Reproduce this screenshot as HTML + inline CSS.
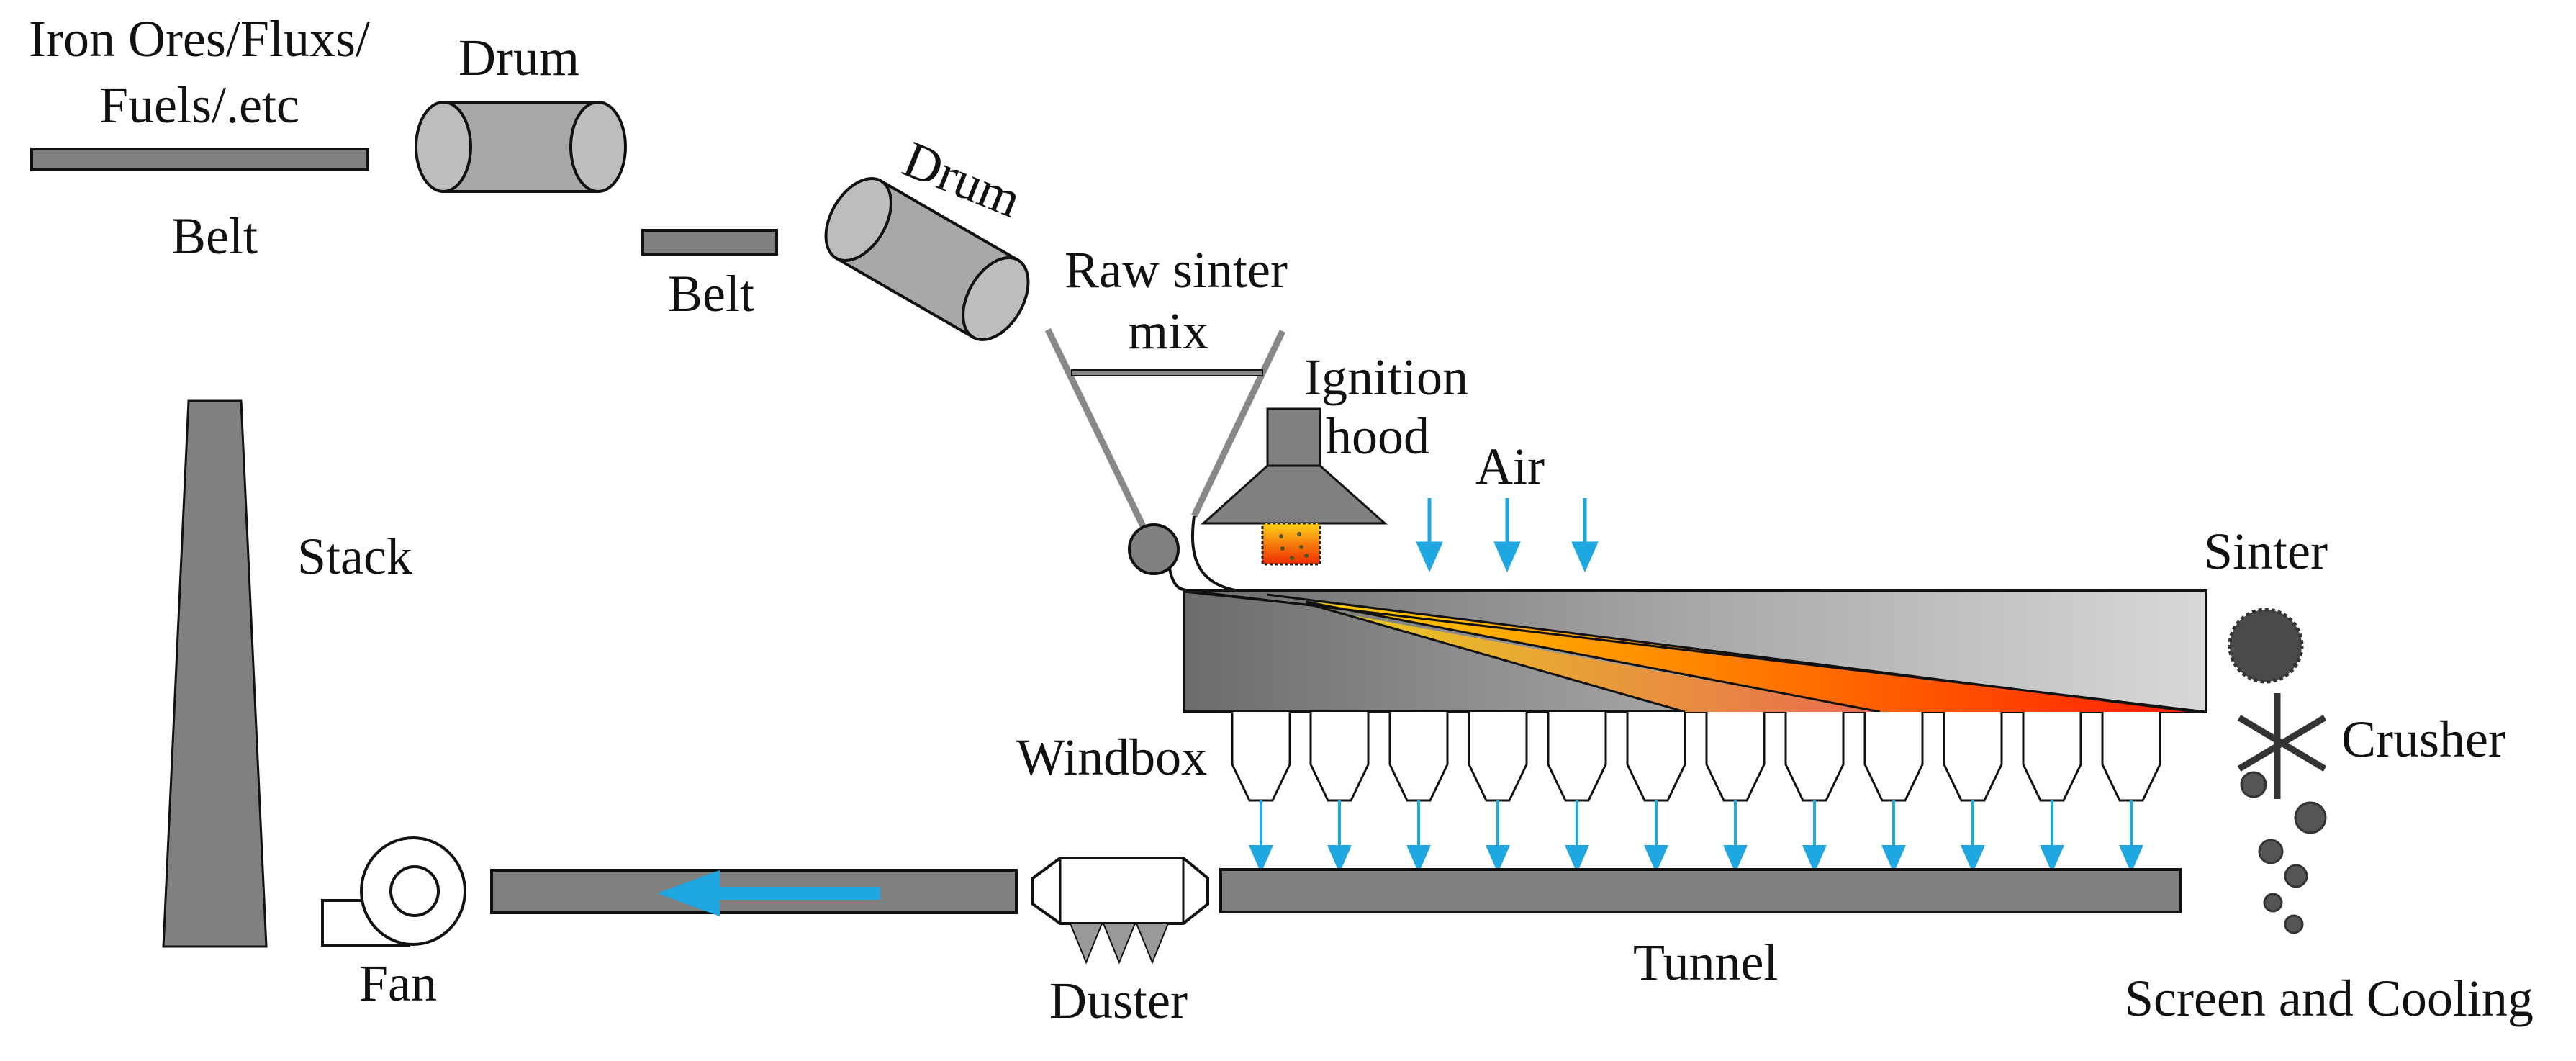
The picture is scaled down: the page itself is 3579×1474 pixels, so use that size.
<!DOCTYPE html>
<html><head><meta charset="utf-8"><style>
html,body{margin:0;padding:0;background:#fff;}
svg{display:block;}
text{font-family:"Liberation Serif",serif;font-size:72px;fill:#111;}
</style></head><body>
<svg width="3579" height="1474" viewBox="0 0 3579 1474" xmlns="http://www.w3.org/2000/svg">
<defs>
<linearGradient id="bed" x1="0" x2="1" y1="0" y2="0"><stop offset="0" stop-color="#6c6c6c"/><stop offset="0.5" stop-color="#a8a8a8"/><stop offset="1" stop-color="#d8d8d8"/></linearGradient>
<linearGradient id="w1" x1="0" x2="1" y1="0" y2="0"><stop offset="0" stop-color="#e8d020"/><stop offset="1" stop-color="#e86a50"/></linearGradient>
<linearGradient id="w2" x1="0" x2="1" y1="0" y2="0"><stop offset="0" stop-color="#ffd000"/><stop offset="0.4" stop-color="#ff8c00"/><stop offset="1" stop-color="#ff1a00"/></linearGradient>
<linearGradient id="fl" x1="0" x2="0" y1="0" y2="1"><stop offset="0" stop-color="#ffd21a"/><stop offset="1" stop-color="#ee2a00"/></linearGradient>
</defs>

<!-- labels -->
<text x="40" y="78">Iron Ores/Fluxs/</text>
<text x="138" y="170">Fuels/.etc</text>
<text x="637" y="104">Drum</text>
<text x="238" y="352">Belt</text>
<text x="928" y="432">Belt</text>
<text x="1250" y="240" transform="rotate(22 1250 240)">Drum</text>
<text x="1479" y="399">Raw sinter</text>
<text x="1567" y="484">mix</text>
<text x="1812" y="548">Ignition</text>
<text x="1842" y="630">hood</text>
<text x="2050" y="672">Air</text>
<text x="413" y="797">Stack</text>
<text x="3062" y="790">Sinter</text>
<text x="3253" y="1051">Crusher</text>
<text x="1412" y="1076">Windbox</text>
<text x="2269" y="1361">Tunnel</text>
<text x="499" y="1390">Fan</text>
<text x="1458" y="1414">Duster</text>
<text x="2952" y="1411">Screen and Cooling</text>

<!-- belts -->
<rect x="44" y="207" width="467" height="29" fill="#808080" stroke="#111" stroke-width="4"/>
<rect x="893" y="320" width="186" height="33" fill="#808080" stroke="#111" stroke-width="4"/>

<!-- drum1 -->
<rect x="616" y="142" width="215" height="124" fill="#a8a8a8" stroke="#111" stroke-width="4"/>
<ellipse cx="616" cy="204" rx="38" ry="62" fill="#bdbdbd" stroke="#111" stroke-width="4"/>
<ellipse cx="831" cy="204" rx="38" ry="62" fill="#bdbdbd" stroke="#111" stroke-width="4"/>

<!-- drum2 tilted -->
<g transform="translate(1288 360) rotate(30)">
<rect x="-110" y="-62" width="220" height="124" fill="#a8a8a8" stroke="#111" stroke-width="4"/>
<ellipse cx="-110" cy="0" rx="38" ry="62" fill="#bdbdbd" stroke="#111" stroke-width="4"/>
<ellipse cx="110" cy="0" rx="38" ry="62" fill="#bdbdbd" stroke="#111" stroke-width="4"/>
</g>

<!-- stack -->
<polygon points="262,557 335,557 370,1315 227,1315" fill="#808080" stroke="#111" stroke-width="3"/>

<!-- hopper -->
<line x1="1456" y1="458" x2="1590" y2="735" stroke="#888" stroke-width="9"/>
<line x1="1782" y1="460" x2="1659" y2="717" stroke="#888" stroke-width="9"/>
<rect x="1489" y="514" width="265" height="8" fill="#888" stroke="#111" stroke-width="2"/>
<circle cx="1603" cy="763" r="34" fill="#808080" stroke="#111" stroke-width="4"/>
<path d="M1659 717 C1652 770 1660 815 1730 822" fill="none" stroke="#111" stroke-width="4"/>
<path d="M1625 790 C1630 815 1638 818 1648 820" fill="none" stroke="#111" stroke-width="4"/>

<!-- ignition hood -->
<rect x="1761" y="568" width="73" height="79" fill="#808080" stroke="#111" stroke-width="3"/>
<polygon points="1761,647 1834,647 1924,727 1672,727" fill="#808080" stroke="#111" stroke-width="3"/>
<rect x="1754" y="727" width="80" height="57" fill="url(#fl)" stroke="#222" stroke-width="3" stroke-dasharray="4 3"/>
<g fill="#552">
<circle cx="1780" cy="745" r="3"/><circle cx="1805" cy="742" r="3"/><circle cx="1782" cy="762" r="3"/><circle cx="1808" cy="760" r="3"/><circle cx="1795" cy="775" r="3"/><circle cx="1815" cy="772" r="3"/>
</g>

<!-- air arrows -->
<g stroke="#1ea7e1" stroke-width="5" fill="#1ea7e1">
<line x1="1986" y1="692" x2="1986" y2="770"/><polygon points="1971,755 2001,755 1986,789"/>
<line x1="2094" y1="692" x2="2094" y2="770"/><polygon points="2079,755 2109,755 2094,789"/>
<line x1="2202" y1="692" x2="2202" y2="770"/><polygon points="2187,755 2217,755 2202,789"/>
</g>

<!-- sinter bed -->
<rect x="1645" y="820" width="1420" height="169" fill="url(#bed)" stroke="#111" stroke-width="4"/>
<polygon points="1814,836 2341,989 2612,989 1880,855" fill="url(#w1)"/>
<polygon points="1814,836 2612,989 3065,989 1840,838" fill="url(#w2)"/>
<polygon points="1840,838 2966,989 3065,989" fill="url(#w2)"/>
<g stroke="#111" stroke-width="3" fill="none">
<line x1="1645" y1="820" x2="3065" y2="989"/>
<line x1="1645" y1="822" x2="1814" y2="840"/>
<line x1="1814" y1="838" x2="2341" y2="989"/>
<line x1="1814" y1="836" x2="2612" y2="989"/>
<line x1="1760" y1="826" x2="3050" y2="989"/>
</g>

<!-- windboxes -->
<g stroke="#111" stroke-width="3" fill="#fff">
<path d="M1712 989 V1062 L1736 1112 H1768 L1792 1062 V989"/>
<path d="M1821 989 V1062 L1845 1112 H1877 L1901 1062 V989"/>
<path d="M1931 989 V1062 L1955 1112 H1987 L2011 1062 V989"/>
<path d="M2041 989 V1062 L2065 1112 H2097 L2121 1062 V989"/>
<path d="M2151 989 V1062 L2175 1112 H2207 L2231 1062 V989"/>
<path d="M2261 989 V1062 L2285 1112 H2317 L2341 1062 V989"/>
<path d="M2371 989 V1062 L2395 1112 H2427 L2451 1062 V989"/>
<path d="M2481 989 V1062 L2505 1112 H2537 L2561 1062 V989"/>
<path d="M2591 989 V1062 L2615 1112 H2647 L2671 1062 V989"/>
<path d="M2701 989 V1062 L2725 1112 H2757 L2781 1062 V989"/>
<path d="M2811 989 V1062 L2835 1112 H2867 L2891 1062 V989"/>
<path d="M2921 989 V1062 L2945 1112 H2977 L3001 1062 V989"/>
</g>
<g stroke="#1ea7e1" stroke-width="4" fill="#1ea7e1">
<line x1="1752" y1="1112" x2="1752" y2="1190"/><polygon points="1738,1176 1766,1176 1752,1208"/>
<line x1="1861" y1="1112" x2="1861" y2="1190"/><polygon points="1847,1176 1875,1176 1861,1208"/>
<line x1="1971" y1="1112" x2="1971" y2="1190"/><polygon points="1957,1176 1985,1176 1971,1208"/>
<line x1="2081" y1="1112" x2="2081" y2="1190"/><polygon points="2067,1176 2095,1176 2081,1208"/>
<line x1="2191" y1="1112" x2="2191" y2="1190"/><polygon points="2177,1176 2205,1176 2191,1208"/>
<line x1="2301" y1="1112" x2="2301" y2="1190"/><polygon points="2287,1176 2315,1176 2301,1208"/>
<line x1="2411" y1="1112" x2="2411" y2="1190"/><polygon points="2397,1176 2425,1176 2411,1208"/>
<line x1="2521" y1="1112" x2="2521" y2="1190"/><polygon points="2507,1176 2535,1176 2521,1208"/>
<line x1="2631" y1="1112" x2="2631" y2="1190"/><polygon points="2617,1176 2645,1176 2631,1208"/>
<line x1="2741" y1="1112" x2="2741" y2="1190"/><polygon points="2727,1176 2755,1176 2741,1208"/>
<line x1="2851" y1="1112" x2="2851" y2="1190"/><polygon points="2837,1176 2865,1176 2851,1208"/>
<line x1="2961" y1="1112" x2="2961" y2="1190"/><polygon points="2947,1176 2975,1176 2961,1208"/>
</g>

<!-- tunnel -->
<rect x="1696" y="1208" width="1333" height="59" fill="#808080" stroke="#111" stroke-width="4"/>

<!-- duster -->
<polygon points="1473,1192 1644,1192 1678,1220 1678,1256 1644,1283 1473,1283 1435,1256 1435,1220" fill="#fff" stroke="#111" stroke-width="4"/>
<line x1="1473" y1="1192" x2="1473" y2="1283" stroke="#111" stroke-width="3"/>
<line x1="1644" y1="1192" x2="1644" y2="1283" stroke="#111" stroke-width="3"/>
<g fill="#999" stroke="#111" stroke-width="2">
<polygon points="1487,1283 1531,1283 1509,1337"/>
<polygon points="1533,1283 1577,1283 1555,1337"/>
<polygon points="1579,1283 1623,1283 1601,1337"/>
</g>

<!-- pipe -->
<rect x="683" y="1209" width="729" height="59" fill="#808080" stroke="#111" stroke-width="4"/>
<line x1="960" y1="1241" x2="1223" y2="1241" stroke="#1ea7e1" stroke-width="18"/>
<polygon points="913,1241 1000,1209 1000,1273" fill="#1ea7e1"/>

<!-- fan -->
<rect x="448" y="1251" width="120" height="62" fill="#fff" stroke="#111" stroke-width="4"/>
<ellipse cx="574" cy="1238" rx="72" ry="74" fill="#fff" stroke="#111" stroke-width="4"/>
<ellipse cx="576" cy="1238" rx="33" ry="34" fill="#fff" stroke="#111" stroke-width="4"/>

<!-- sinter / crusher -->
<circle cx="3148" cy="897" r="50" fill="#4a4a4a" stroke="#333" stroke-width="5" stroke-dasharray="5 4"/>
<g stroke="#333" stroke-width="9">
<line x1="3164" y1="963" x2="3164" y2="1110"/>
<line x1="3111" y1="997" x2="3230" y2="1068"/>
<line x1="3230" y1="997" x2="3111" y2="1068"/>
</g>
<g fill="#555" stroke="#333" stroke-width="3">
<circle cx="3131" cy="1090" r="17"/>
<circle cx="3210" cy="1136" r="21"/>
<circle cx="3155" cy="1183" r="16"/>
<circle cx="3190" cy="1217" r="15"/>
<circle cx="3158" cy="1254" r="12"/>
<circle cx="3187" cy="1284" r="12"/>
</g>
</svg>
</body></html>
